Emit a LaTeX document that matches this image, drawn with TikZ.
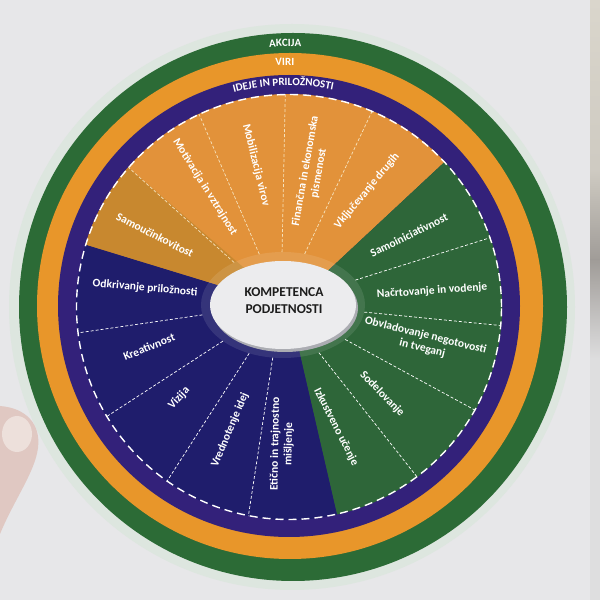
\documentclass[tikz,border=0pt]{standalone}
\usepackage{fontspec}
\setmainfont{Carlito}
\usetikzlibrary{calc,decorations.text}
\definecolor{bg}{HTML}{E7E7E9}
\definecolor{halo}{HTML}{DDE6DF}
\definecolor{ringG}{HTML}{2C6B36}
\definecolor{ringO}{HTML}{E8962A}
\definecolor{ringP}{HTML}{33217A}
\definecolor{secO}{HTML}{E2923A}
\definecolor{secOd}{HTML}{C8882F}
\definecolor{secG}{HTML}{2E6639}
\definecolor{secN}{HTML}{1F1D6C}
\definecolor{ell}{HTML}{ECECEE}
\definecolor{ellsh}{HTML}{ABACB2}
\definecolor{skin}{HTML}{E0C8C2}
\definecolor{nail}{HTML}{EDE0DB}
\definecolor{ink}{HTML}{1C1C1C}
\definecolor{cream}{HTML}{F6E2BC}
\definecolor{backA}{HTML}{DAD6CC}
\definecolor{backB}{HTML}{A09C98}
\definecolor{backC}{HTML}{DEDEDF}
\newcommand{\ringfnt}{\color{white}\bfseries\fontsize{11}{12}\selectfont}
\begin{document}
\begin{tikzpicture}[x=1pt,y=1pt,
  lab/.style={text=white, font=\bfseries\fontsize{11.5}{13.5}\selectfont, align=center, inner sep=0pt},
  divider/.style={white, line width=0.7pt, dash pattern=on 3pt off 2pt},
  divO/.style={cream, line width=0.7pt, dash pattern=on 3pt off 2pt},
  rim/.style={white, line width=1.4pt, dash pattern=on 8pt off 5pt},
  ringtext/.style={decorate, decoration={text along path, text align=center, text={|\ringfnt|#1}}}]
\useasboundingbox (0,0) rectangle (600,600);
\fill[bg] (0,0) rectangle (600,600);
% background beyond the paper edge
\shade[top color=backA, bottom color=backA!80!backB] (590,430) rectangle (600,600);
\shade[top color=backA!80!backB, bottom color=backB] (590,340) rectangle (600,430);
\shade[top color=backB, bottom color=backC] (590,240) rectangle (600,340);
\fill[backC] (590,0) rectangle (600,240);
% centres
\coordinate (H) at (292,293);
\coordinate (G) at (293,293);
\coordinate (O) at (290,294);
\coordinate (P) at (289,294);
\coordinate (C) at (289,293);
\coordinate (E) at (283,295);
% rings
\fill[halo] (H) circle[radius=283pt];
\fill[ringG] (G) circle[radius=274pt];
\fill[ringO] (O) circle[radius=253pt];
\fill[ringP] (P) circle[radius=231pt];
% sector groups
\fill[secO] (C) -- ($(C)+(43:213pt)$) arc[start angle=43, end angle=163, radius=213pt] -- cycle;
\fill[secOd] (C) -- ($(C)+(139:213pt)$) arc[start angle=139, end angle=163, radius=213pt] -- cycle;
\fill[secG] (C) -- ($(C)+(-77:213pt)$) arc[start angle=-77, end angle=43, radius=213pt] -- cycle;
\fill[secN] (C) -- ($(C)+(163:213pt)$) arc[start angle=163, end angle=283, radius=213pt] -- cycle;
% lighter band round the centre
\fill[white, opacity=0.1] (E) ellipse[x radius=82pt, y radius=53pt];
% dividers
\foreach \a in {67,91,115,139}{
  \pgfmathsetmacro\t{atan2(82*sin(\a),53*cos(\a))}
  \draw[divO] ($(E)+(\t:82pt and 53pt)$) -- ($(C)+(\a:213pt)$);}
\foreach \a in {-53,-29,-5,19,-101,-125,-149,-173}{
  \pgfmathsetmacro\t{atan2(82*sin(\a),53*cos(\a))}
  \draw[divider] ($(E)+(\t:82pt and 53pt)$) -- ($(C)+(\a:213pt)$);}
\draw[rim] (C) circle[radius=212.5pt];
% ring titles
\path[ringtext=AKCIJA] ($(G)+(150:260.5pt)$) arc[start angle=150, end angle=33.4, radius=260.5pt];
\path[ringtext=VIRI] ($(O)+(150:240.5pt)$) arc[start angle=150, end angle=32.4, radius=240.5pt];
\path[ringtext={IDEJE IN PRILOŽNOSTI}] ($(P)+(150:220.5pt)$) arc[start angle=150, end angle=33, radius=220.5pt];
% centre
\fill[ellsh] ($(E)+(2,-3)$) ellipse[x radius=73pt, y radius=44pt];
\fill[ell] (E) ellipse[x radius=73pt, y radius=44pt];
\node[text=ink, font=\bfseries\fontsize{13.5}{17}\selectfont, align=center] (title) at (284,299) {KOMPETENCA\\PODJETNOSTI};
% labels
\node[lab, rotate=-27] (l1) at (155,365) {Samoučinkovitost};
\node[lab, rotate=-58] (l2) at (205,413) {Motivacija in vztrajnost};
\node[lab, rotate=-76] (l3) at (256,435) {Mobilizacija virov};
\node[lab, rotate=80] (l4) at (312,428) {Finančna in ekonomska\\pismenost};
\node[lab, rotate=50] (l5) at (367,409) {Vključevanje drugih};
\node[lab, rotate=26] (l6) at (409,365) {Samoiniciativnost};
\node[lab, rotate=4] (l7) at (432,309) {Načrtovanje in vodenje};
\node[lab, rotate=-14] (l8) at (424,258) {Obvladovanje negotovosti\\in tveganj};
\node[lab, rotate=-46] (l9) at (382,206) {Sodelovanje};
\node[lab, rotate=-63] (l10) at (336,173) {Izkustveno učenje};
\node[lab, rotate=89] (l11) at (282,156) {Etično in trajnostno\\mišljenje};
\node[lab, rotate=67] (l12) at (230,170) {Vrednotenje idej};
\node[lab, rotate=47] (l13) at (179,202) {Vizija};
\node[lab, rotate=22] (l14) at (149,253) {Kreativnost};
\node[lab, rotate=-5] (l15) at (145,312) {Odkrivanje priložnosti};
% thumb
\fill[skin] (0,194) .. controls (26,192) and (41,176) .. (38,152) .. controls (35,128) and (14,100) .. (0,66) -- cycle;
\fill[nail] (17,166) ellipse[x radius=15pt, y radius=18pt];
\end{tikzpicture}
\end{document}
